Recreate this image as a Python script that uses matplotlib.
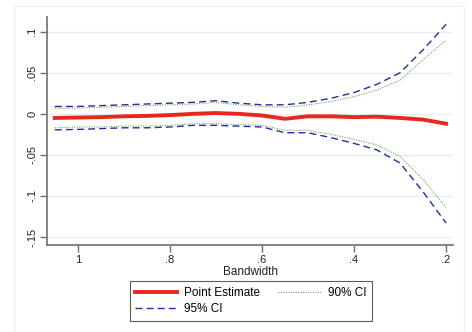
import matplotlib
matplotlib.use("Agg")
import matplotlib.pyplot as plt
from matplotlib.patches import Rectangle

plt.rcParams['font.family'] = ['Liberation Sans', 'DejaVu Sans']

bandwidth = [1.05, 1.0, 0.95, 0.9, 0.85, 0.8, 0.75, 0.7, 0.65, 0.6, 0.55, 0.5, 0.45, 0.4, 0.35, 0.3, 0.25, 0.2]
point_est = [-0.005, -0.0045, -0.004, -0.003, -0.0025, -0.0015, 0.0, 0.001, 0.0, -0.002, -0.006, -0.003, -0.003, -0.004, -0.0035, -0.005, -0.007, -0.012]
upper95 = [0.009, 0.009, 0.010, 0.011, 0.012, 0.013, 0.014, 0.016, 0.013, 0.011, 0.011, 0.014, 0.019, 0.026, 0.036, 0.050, 0.078, 0.109]
lower95 = [-0.0195, -0.019, -0.018, -0.017, -0.017, -0.016, -0.014, -0.014, -0.015, -0.016, -0.023, -0.023, -0.029, -0.036, -0.044, -0.060, -0.095, -0.133]
upper90 = [0.007, 0.007, 0.008, 0.009, 0.010, 0.011, 0.012, 0.014, 0.011, 0.009, 0.008, 0.011, 0.015, 0.021, 0.029, 0.041, 0.066, 0.090]
lower90 = [-0.017, -0.016, -0.016, -0.015, -0.015, -0.014, -0.012, -0.012, -0.013, -0.014, -0.020, -0.020, -0.025, -0.031, -0.038, -0.052, -0.080, -0.114]

xticks = [1.0, 0.8, 0.6, 0.4, 0.2]
xticklabels = ['1', '.8', '.6', '.4', '.2']
yticks = [0.1, 0.05, 0.0, -0.05, -0.1, -0.15]
yticklabels = ['.1', '.05', '0', '-.05', '-.1', '-.15']

W, H = 472, 332
fig = plt.figure(figsize=(W / 100, H / 100), dpi=100)
fig.patch.set_facecolor('white')

# faint outer frame
fig.add_artist(Rectangle((14 / W, -0.01), (464 - 14) / W, 1 - 6 / H + 0.01,
                         transform=fig.transFigure, fill=False,
                         edgecolor='#eef2f3', linewidth=1.0))

ax = fig.add_axes([47 / W, 1 - 245 / H, (453 - 47) / W, (245 - 17) / H])
ax.set_facecolor('white')

red = '#e8281e'
blue = '#2a2aa0'
green = '#6aa86a'

ax.plot(bandwidth, point_est, color=red, linewidth=2.8, label='Point Estimate', zorder=5)
ax.plot(bandwidth, upper95, color=blue, linewidth=1.0, linestyle=(0, (5, 3)), label='95% CI', zorder=4)
ax.plot(bandwidth, lower95, color=blue, linewidth=1.0, linestyle=(0, (5, 3)), zorder=4)
ax.plot(bandwidth, upper90, color=green, linewidth=0.8, linestyle=(0, (1, 1.2)), label='90% CI', zorder=3)
ax.plot(bandwidth, lower90, color=green, linewidth=0.8, linestyle=(0, (1, 1.2)), zorder=3)

ax.set_xlim(1.067, 0.185)
ax.set_ylim(-0.1598, 0.118)

ax.set_xticks(xticks)
ax.set_xticklabels(xticklabels)
ax.set_yticks(yticks)
ax.set_yticklabels(yticklabels, rotation=90, va='center')

ax.grid(axis='y', color='#e6eeef', linewidth=1.0)
ax.set_axisbelow(True)

for s in ['top', 'right']:
    ax.spines[s].set_visible(False)
for s in ['left', 'bottom']:
    ax.spines[s].set_color('#707070')
    ax.spines[s].set_linewidth(1.2)

ax.tick_params(axis='both', colors='#707070', labelcolor='#222222', labelsize=8,
               length=5, width=1.0, direction='out', pad=2)

ax.set_xlabel('Bandwidth', fontsize=8.5, color='#222222', labelpad=1)

handles, labels = ax.get_legend_handles_labels()
leg = fig.legend(handles, labels, loc='center', ncol=2,
                 bbox_to_anchor=(250.5 / W, 1 - 301 / H),
                 frameon=True, fancybox=False, fontsize=8.5,
                 handlelength=3.6, columnspacing=1.5, handletextpad=0.6,
                 borderpad=0.45, labelspacing=0.4, edgecolor='#333333')
leg.get_frame().set_linewidth(0.8)

fig.savefig('out.png', dpi=100, facecolor='white')
